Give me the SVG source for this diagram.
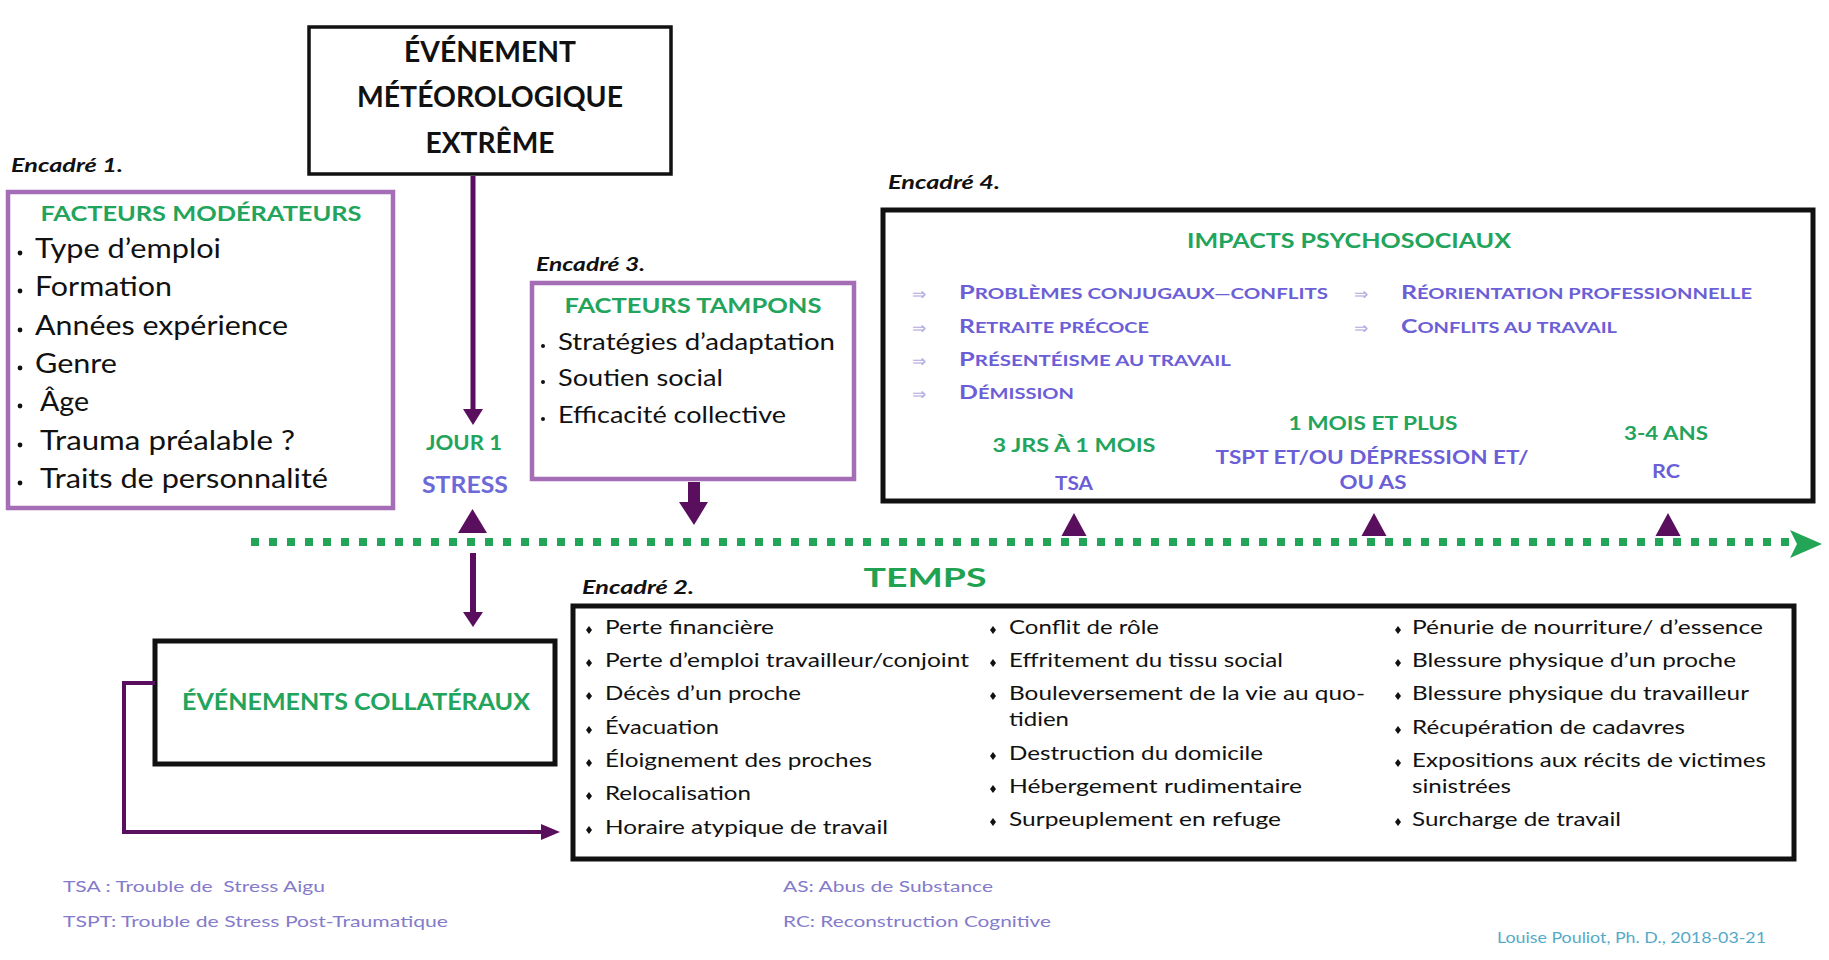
<svg xmlns="http://www.w3.org/2000/svg" width="1829" height="960" viewBox="0 0 1829 960">
<style>
text{font-family:Lato,"Open Sans","Liberation Sans",sans-serif}
.box{fill:#fff;stroke:#111;stroke-width:5}
.pbox{fill:#fff;stroke:#a56db5;stroke-width:4.5}
.ttl{font-weight:700;fill:#111;font-size:28px;text-anchor:middle}
.gh{font-weight:700;fill:#22a45c;font-size:21px;text-anchor:middle}
.it{fill:#111;font-size:26px}
.it3{fill:#111;font-size:23px}
.it2{fill:#111;font-size:20px}
.enc{font-weight:700;font-style:italic;fill:#111;font-size:18px}
.sc{font-weight:700;fill:#6b5ed6;font-size:18px}
.sm{font-size:14.5px}
.arr{fill:#b3aadf;font-size:17px}
.gt{font-weight:700;fill:#22a45c;font-size:19px;text-anchor:middle}
.bt{font-weight:700;fill:#6b5ed6;font-size:19px;text-anchor:middle}
.leg{fill:#847bcb;font-size:16px}
.pl{stroke:#5a0f5e;fill:none}
.pf{fill:#5a0f5e}
.dot{fill:#111}
</style>

<g id="evenement">
<rect x="309" y="27" width="362" height="147" fill="#fff" stroke="#111" stroke-width="3.5"/>
<text class="ttl" x="490" y="62" textLength="172" lengthAdjust="spacingAndGlyphs">ÉVÉNEMENT</text>
<text class="ttl" x="490" y="107" textLength="266" lengthAdjust="spacingAndGlyphs">MÉTÉOROLOGIQUE</text>
<text class="ttl" x="490" y="153" textLength="129" lengthAdjust="spacingAndGlyphs">EXTRÊME</text>
</g>

<g id="encadre1">
<text class="enc" x="11" y="172" textLength="112" lengthAdjust="spacingAndGlyphs">Encadré 1.</text>
<rect class="pbox" x="8" y="192" width="385" height="316"/>
<text class="gh" x="201" y="221" textLength="321" lengthAdjust="spacingAndGlyphs">FACTEURS MODÉRATEURS</text>
<g class="dot">
<circle cx="20" cy="253" r="2.4"/><circle cx="20" cy="291" r="2.4"/><circle cx="20" cy="330" r="2.4"/><circle cx="20" cy="368" r="2.4"/><circle cx="20" cy="406" r="2.4"/><circle cx="20" cy="445" r="2.4"/><circle cx="20" cy="483" r="2.4"/>
</g>
<text class="it" x="35" y="258" textLength="186" lengthAdjust="spacingAndGlyphs">Type d’emploi</text>
<text class="it" x="35" y="296" textLength="137" lengthAdjust="spacingAndGlyphs">Formation</text>
<text class="it" x="35" y="335" textLength="253" lengthAdjust="spacingAndGlyphs">Années expérience</text>
<text class="it" x="35" y="373" textLength="82" lengthAdjust="spacingAndGlyphs">Genre</text>
<text class="it" x="40" y="411" textLength="49" lengthAdjust="spacingAndGlyphs">Âge</text>
<text class="it" x="40" y="450" textLength="255" lengthAdjust="spacingAndGlyphs">Trauma préalable ?</text>
<text class="it" x="40" y="488" textLength="288" lengthAdjust="spacingAndGlyphs">Traits de personnalité</text>
</g>

<g id="jour1">
<text x="464" y="450" font-weight="700" fill="#22a45c" font-size="20" text-anchor="middle" textLength="76" lengthAdjust="spacingAndGlyphs">JOUR 1</text>
<text x="465" y="493" font-weight="700" fill="#6b6ad8" font-size="22" text-anchor="middle" textLength="86" lengthAdjust="spacingAndGlyphs">STRESS</text>
</g>

<g id="encadre3">
<text class="enc" x="536" y="271" textLength="109" lengthAdjust="spacingAndGlyphs">Encadré 3.</text>
<rect class="pbox" x="532" y="283" width="322" height="196"/>
<text class="gh" x="693" y="313" textLength="257" lengthAdjust="spacingAndGlyphs">FACTEURS TAMPONS</text>
<g class="dot">
<circle cx="543" cy="346" r="2"/><circle cx="543" cy="382" r="2"/><circle cx="543" cy="419" r="2"/>
</g>
<text class="it3" x="558" y="350" textLength="277" lengthAdjust="spacingAndGlyphs">Stratégies d’adaptation</text>
<text class="it3" x="558" y="386" textLength="165" lengthAdjust="spacingAndGlyphs">Soutien social</text>
<text class="it3" x="558" y="423" textLength="228" lengthAdjust="spacingAndGlyphs">Efficacité collective</text>
</g>

<g id="encadre4">
<text class="enc" x="888" y="189" textLength="112" lengthAdjust="spacingAndGlyphs">Encadré 4.</text>
<rect class="box" x="883" y="210" width="930" height="291"/>
<text class="gh" x="1349" y="248" textLength="324" lengthAdjust="spacingAndGlyphs">IMPACTS PSYCHOSOCIAUX</text>
<text class="arr" x="912" y="300">⇒</text>
<text class="arr" x="912" y="334">⇒</text>
<text class="arr" x="912" y="367">⇒</text>
<text class="arr" x="912" y="400">⇒</text>
<text class="arr" x="1354" y="300">⇒</text>
<text class="arr" x="1354" y="334">⇒</text>
<text class="sc" x="959" y="299" textLength="369" lengthAdjust="spacingAndGlyphs">P<tspan class="sm">ROBLÈMES CONJUGAUX—CONFLITS</tspan></text>
<text class="sc" x="959" y="333" textLength="190" lengthAdjust="spacingAndGlyphs">R<tspan class="sm">ETRAITE PRÉCOCE</tspan></text>
<text class="sc" x="959" y="366" textLength="272" lengthAdjust="spacingAndGlyphs">P<tspan class="sm">RÉSENTÉISME AU TRAVAIL</tspan></text>
<text class="sc" x="959" y="399" textLength="115" lengthAdjust="spacingAndGlyphs">D<tspan class="sm">ÉMISSION</tspan></text>
<text class="sc" x="1401" y="299" textLength="351" lengthAdjust="spacingAndGlyphs">R<tspan class="sm">ÉORIENTATION PROFESSIONNELLE</tspan></text>
<text class="sc" x="1401" y="333" textLength="216" lengthAdjust="spacingAndGlyphs">C<tspan class="sm">ONFLITS AU TRAVAIL</tspan></text>
<text class="gt" x="1074" y="452" textLength="163" lengthAdjust="spacingAndGlyphs">3 JRS À 1 MOIS</text>
<text class="bt" x="1074" y="490" textLength="38" lengthAdjust="spacingAndGlyphs">TSA</text>
<text class="gt" x="1373" y="430" textLength="169" lengthAdjust="spacingAndGlyphs">1 MOIS ET PLUS</text>
<text class="bt" x="1372" y="464" textLength="313" lengthAdjust="spacingAndGlyphs">TSPT ET/OU DÉPRESSION ET/</text>
<text class="bt" x="1373" y="489" textLength="67" lengthAdjust="spacingAndGlyphs">OU AS</text>
<text class="gt" x="1666" y="440" textLength="84" lengthAdjust="spacingAndGlyphs">3-4 ANS</text>
<text class="bt" x="1666" y="478" textLength="28" lengthAdjust="spacingAndGlyphs">RC</text>
</g>

<g id="temps">
<text x="925" y="587" font-family="'DejaVu Sans',sans-serif" font-weight="700" fill="#1fa352" font-size="27" text-anchor="middle" textLength="123" lengthAdjust="spacingAndGlyphs">TEMPS</text>
</g>

<g id="collateraux">
<rect class="box" x="155" y="641" width="400" height="123"/>
<text x="356" y="710" font-weight="700" fill="#22a45c" font-size="23" text-anchor="middle" textLength="348" lengthAdjust="spacingAndGlyphs">ÉVÉNEMENTS COLLATÉRAUX</text>
</g>

<g id="encadre2">
<text class="enc" x="582" y="594" textLength="112" lengthAdjust="spacingAndGlyphs">Encadré 2.</text>
<rect class="box" x="573" y="606" width="1221" height="253"/>
<g class="dot">
<path d="M589 626l3 4-3 4-3-4z"/><path d="M589 659l3 4-3 4-3-4z"/><path d="M589 692l3 4-3 4-3-4z"/><path d="M589 726l3 4-3 4-3-4z"/><path d="M589 759l3 4-3 4-3-4z"/><path d="M589 792l3 4-3 4-3-4z"/><path d="M589 826l3 4-3 4-3-4z"/>
<path d="M993 626l3 4-3 4-3-4z"/><path d="M993 659l3 4-3 4-3-4z"/><path d="M993 692l3 4-3 4-3-4z"/><path d="M993 752l3 4-3 4-3-4z"/><path d="M993 785l3 4-3 4-3-4z"/><path d="M993 818l3 4-3 4-3-4z"/>
<path d="M1398 626l3 4-3 4-3-4z"/><path d="M1398 659l3 4-3 4-3-4z"/><path d="M1398 692l3 4-3 4-3-4z"/><path d="M1398 726l3 4-3 4-3-4z"/><path d="M1398 759l3 4-3 4-3-4z"/><path d="M1398 818l3 4-3 4-3-4z"/>
</g>
<text class="it2" x="605" y="634" textLength="169" lengthAdjust="spacingAndGlyphs">Perte financière</text>
<text class="it2" x="605" y="667" textLength="364" lengthAdjust="spacingAndGlyphs">Perte d’emploi travailleur/conjoint</text>
<text class="it2" x="605" y="700" textLength="196" lengthAdjust="spacingAndGlyphs">Décès d’un proche</text>
<text class="it2" x="605" y="734" textLength="114" lengthAdjust="spacingAndGlyphs">Évacuation</text>
<text class="it2" x="605" y="767" textLength="267" lengthAdjust="spacingAndGlyphs">Éloignement des proches</text>
<text class="it2" x="605" y="800" textLength="146" lengthAdjust="spacingAndGlyphs">Relocalisation</text>
<text class="it2" x="605" y="834" textLength="283" lengthAdjust="spacingAndGlyphs">Horaire atypique de travail</text>
<text class="it2" x="1009" y="634" textLength="150" lengthAdjust="spacingAndGlyphs">Conflit de rôle</text>
<text class="it2" x="1009" y="667" textLength="274" lengthAdjust="spacingAndGlyphs">Effritement du tissu social</text>
<text class="it2" x="1009" y="700" textLength="356" lengthAdjust="spacingAndGlyphs">Bouleversement de la vie au quo-</text>
<text class="it2" x="1009" y="726" textLength="60" lengthAdjust="spacingAndGlyphs">tidien</text>
<text class="it2" x="1009" y="760" textLength="254" lengthAdjust="spacingAndGlyphs">Destruction du domicile</text>
<text class="it2" x="1009" y="793" textLength="293" lengthAdjust="spacingAndGlyphs">Hébergement rudimentaire</text>
<text class="it2" x="1009" y="826" textLength="272" lengthAdjust="spacingAndGlyphs">Surpeuplement en refuge</text>
<text class="it2" x="1412" y="634" textLength="351" lengthAdjust="spacingAndGlyphs">Pénurie de nourriture/ d’essence</text>
<text class="it2" x="1412" y="667" textLength="324" lengthAdjust="spacingAndGlyphs">Blessure physique d’un proche</text>
<text class="it2" x="1412" y="700" textLength="337" lengthAdjust="spacingAndGlyphs">Blessure physique du travailleur</text>
<text class="it2" x="1412" y="734" textLength="273" lengthAdjust="spacingAndGlyphs">Récupération de cadavres</text>
<text class="it2" x="1412" y="767" textLength="354" lengthAdjust="spacingAndGlyphs">Expositions aux récits de victimes</text>
<text class="it2" x="1412" y="793" textLength="99" lengthAdjust="spacingAndGlyphs">sinistrées</text>
<text class="it2" x="1412" y="826" textLength="209" lengthAdjust="spacingAndGlyphs">Surcharge de travail</text>
</g>

<g id="connectors">
<line x1="251" y1="542" x2="1790" y2="542" stroke="#22a556" stroke-width="8" stroke-dasharray="8 10"/>
<path d="M1790 530L1822 544L1790 558L1797 544Z" fill="#22a556"/>
<line class="pl" x1="473" y1="176" x2="473" y2="410" stroke-width="5"/>
<path class="pf" d="M463 409H483L473 425Z"/>
<path class="pf" d="M458 533H487L472.5 509Z"/>
<line class="pl" x1="473" y1="553" x2="473" y2="613" stroke-width="6"/>
<path class="pf" d="M463 612H483L473 627Z"/>
<path class="pf" d="M688 482H700V502H708L694 525L679 502H688Z"/>
<path class="pf" d="M1061.5 536H1086.5L1074 513Z"/>
<path class="pf" d="M1361.5 536H1386.5L1374 513Z"/>
<path class="pf" d="M1655.5 536H1680.5L1668 513Z"/>
<polyline class="pl" points="155,683 124,683 124,832 543,832" stroke-width="4"/>
<path class="pf" d="M541 824L560 832L541 840Z"/>
</g>

<g id="legende">
<text class="leg" x="63" y="892" xml:space="preserve" textLength="262" lengthAdjust="spacingAndGlyphs">TSA : Trouble de  Stress Aigu</text>
<text class="leg" x="63" y="927" textLength="385" lengthAdjust="spacingAndGlyphs">TSPT: Trouble de Stress Post-Traumatique</text>
<text class="leg" x="783" y="892" textLength="210" lengthAdjust="spacingAndGlyphs">AS: Abus de Substance</text>
<text class="leg" x="783" y="927" textLength="268" lengthAdjust="spacingAndGlyphs">RC: Reconstruction Cognitive</text>
<text x="1497" y="943" fill="#56aac9" font-size="15" textLength="269" lengthAdjust="spacingAndGlyphs">Louise Pouliot, Ph. D., 2018-03-21</text>
</g>
</svg>
